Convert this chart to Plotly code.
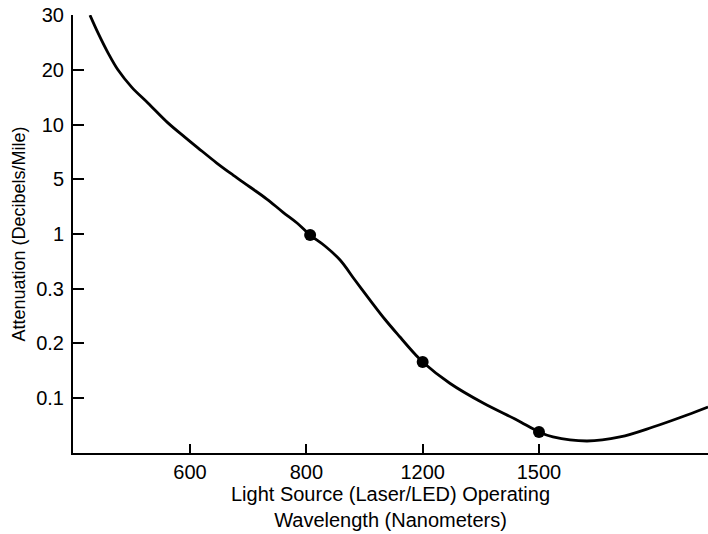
import numpy as np
import plotly.graph_objects as go

# Axis scale (the original chart uses non-uniform, evenly spaced tick labels)
x_tick_vals = [600, 800, 1200, 1500]
x_scale_wl = [400, 600, 800, 1200, 1500, 1800, 2100]      # nm anchors
y_tick_vals = [0.1, 0.2, 0.3, 1, 5, 10, 20, 30]
y_tick_text = ["0.1", "0.2", "0.3", "1", "5", "10", "20", "30"]
y_scale_att = [0.05, 0.1, 0.2, 0.3, 1, 5, 10, 20, 30]     # dB/mile anchors

# Attenuation curve
curve_wavelength = [428, 442, 459, 476, 500, 528, 562, 591, 614, 646, 674, 703,
                    732, 760, 784, 813, 864, 916, 967, 1019, 1070, 1122, 1174,
                    1200, 1270, 1356, 1443, 1500, 1536, 1624, 1709, 1794, 1882,
                    1936]
curve_attenuation = [30, 26.7, 23.1, 20.0, 16.8, 13.9, 10.3, 8.85, 7.85, 6.48,
                     5.38, 4.43, 3.55, 2.58, 1.80, 0.985, 0.845, 0.666, 0.410,
                     0.279, 0.244, 0.2115, 0.180, 0.166, 0.127, 0.0954, 0.0799,
                     0.069, 0.0644, 0.0607, 0.0644, 0.0735, 0.0845, 0.0918]

# Highlighted operating windows
dot_wavelength = [813, 1200, 1500]
dot_attenuation = [0.985, 0.166, 0.069]


def xpos(v):
    return np.interp(v, x_scale_wl, np.arange(len(x_scale_wl)))


def ypos(v):
    return np.interp(v, y_scale_att, np.arange(len(y_scale_att)) - 1)


fig = go.Figure()
fig.add_trace(go.Scatter(
    x=xpos(curve_wavelength), y=ypos(curve_attenuation),
    mode="lines", line=dict(color="black", width=2.8, shape="spline", smoothing=1.0),
    hoverinfo="skip", showlegend=False))
fig.add_trace(go.Scatter(
    x=xpos(dot_wavelength), y=ypos(dot_attenuation),
    mode="markers", marker=dict(color="black", size=12),
    showlegend=False))

fam = "Liberation Sans, Arial, sans-serif"
tick_font = dict(family=fam, size=20, color="black")

fig.update_layout(
    width=708, height=534,
    margin=dict(l=73, r=0, t=15, b=81),
    paper_bgcolor="white", plot_bgcolor="white",
    font=dict(family=fam, size=18, color="black"),
    xaxis=dict(
        range=[-0.006, 5.453], automargin=False,
        tickvals=list(xpos(x_tick_vals)), ticktext=[str(v) for v in x_tick_vals],
        tickfont=tick_font,
        ticks="inside", ticklen=9, tickwidth=2, tickcolor="black",
        showline=True, linewidth=2, linecolor="black",
        showgrid=False, zeroline=False,
        title=dict(text="Light Source (Laser/LED) Operating<br>Wavelength (Nanometers)",
                   font=dict(family=fam, size=20, color="black"), standoff=0),
    ),
    yaxis=dict(
        range=[-1.005, 7.002], automargin=False,
        tickvals=list(ypos(y_tick_vals)), ticktext=y_tick_text,
        tickfont=tick_font, ticklabelstandoff=3,
        ticks="inside", ticklen=11, tickwidth=2, tickcolor="black",
        showline=True, linewidth=2, linecolor="black",
        showgrid=False, zeroline=False,
        title=dict(text="Attenuation (Decibels/Mile)",
                   font=dict(family=fam, size=18, color="black"), standoff=6),
    ),
)

# remove the default page margin so the 708x534 figure fills the window exactly
fig.write_html("out.html", config={"displayModeBar": False},
               post_script="document.body.style.margin='0';")
